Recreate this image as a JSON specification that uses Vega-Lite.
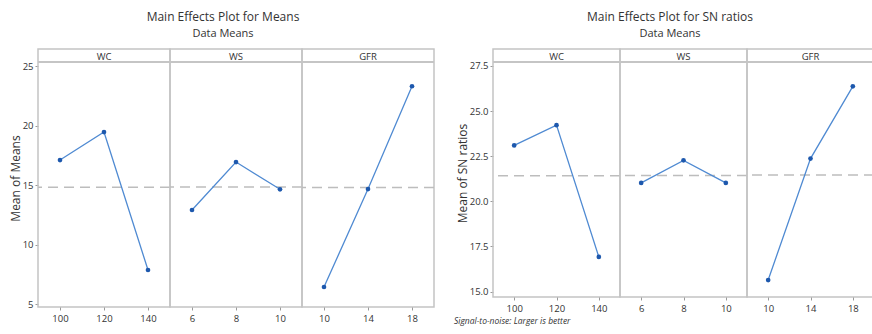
{
  "$schema": "https://vega.github.io/schema/vega-lite/v6.json",
  "padding": {"left": 9, "top": 11, "right": 0, "bottom": 0},
  "background": "white",
  "config": {
    "font": "Open Sans",
    "view": {"stroke": "#c4c4c4", "strokeWidth": 1.5},
    "axis": {"labelFont": "Open Sans", "labelFontSize": 9.5, "labelColor": "#333333", "tickColor": "#9a9a9a", "tickSize": 3, "labelPadding": 2, "domain": false, "grid": false, "titleFont": "Open Sans", "titleFontSize": 12, "titleFontWeight": "normal", "titleColor": "#333333", "titlePadding": 0},
    "axisX": {"labelPadding": 3},
    "header": {"labelFont": "Open Sans", "labelFontSize": 9.5, "labelColor": "#333333", "labelOrient": "top", "labelPadding": -12, "title": null},
    "title": {"font": "Open Sans", "fontSize": 12, "fontWeight": "normal", "color": "#333333", "subtitleFont": "Open Sans", "subtitleFontSize": 11, "subtitleColor": "#333333", "subtitlePadding": 4, "offset": 8},
    "concat": {"spacing": 18}
  },
  "datasets": {
    "means": [
      {"factor": "WC", "level": 100, "value": 17.1},
      {"factor": "WC", "level": 120, "value": 19.45},
      {"factor": "WC", "level": 140, "value": 7.86},
      {"factor": "WS", "level": 6, "value": 12.9},
      {"factor": "WS", "level": 8, "value": 16.93},
      {"factor": "WS", "level": 10, "value": 14.64},
      {"factor": "GFR", "level": 10, "value": 6.43},
      {"factor": "GFR", "level": 14, "value": 14.66},
      {"factor": "GFR", "level": 18, "value": 23.3}
    ],
    "sn": [
      {"factor": "WC", "level": 100, "value": 23.1},
      {"factor": "WC", "level": 120, "value": 24.22},
      {"factor": "WC", "level": 140, "value": 16.92},
      {"factor": "WS", "level": 6, "value": 21.02},
      {"factor": "WS", "level": 8, "value": 22.27},
      {"factor": "WS", "level": 10, "value": 21.02},
      {"factor": "GFR", "level": 10, "value": 15.64},
      {"factor": "GFR", "level": 14, "value": 22.37},
      {"factor": "GFR", "level": 18, "value": 26.37}
    ]
  },
  "hconcat": [
    {
      "title": {"text": "Main Effects Plot for Means", "subtitle": "Data Means", "anchor": "start", "align": "center", "frame": "group", "dx": 185},
      "data": {"name": "means"},
      "bounds": "flush",
      "facet": {"column": {"field": "factor", "type": "nominal", "sort": ["WC", "WS", "GFR"], "title": null}},
      "spacing": 0,
      "resolve": {"scale": {"x": "independent"}},
      "spec": {
        "width": 132,
        "height": 258,
        "layer": [
          {
            "mark": {"type": "rule", "color": "#bdbdbd", "strokeWidth": 1.5, "strokeDash": [10, 6]},
            "encoding": {"y": {"aggregate": "mean", "field": "value", "type": "quantitative", "title": "Mean of Means"}}
          },
          {
            "mark": {"type": "rule", "color": "#c4c4c4", "strokeWidth": 1.5},
            "encoding": {"y": {"datum": 25.34, "type": "quantitative", "title": "Mean of Means"}}
          },
          {
            "mark": {"type": "line", "color": "#4f8ad2", "strokeWidth": 1.3},
            "encoding": {
              "x": {"field": "level", "type": "ordinal", "title": null, "axis": {"labelAngle": 0}},
              "y": {"field": "value", "type": "quantitative", "title": "Mean of Means", "scale": {"domain": [4.75, 26.43], "nice": false, "zero": false}, "axis": {"values": [5, 10, 15, 20, 25]}}
            }
          },
          {
            "mark": {"type": "point", "filled": true, "color": "#1d58ad", "size": 22, "opacity": 1},
            "encoding": {
              "x": {"field": "level", "type": "ordinal", "title": null},
              "y": {"field": "value", "type": "quantitative", "title": "Mean of Means"}
            }
          }
        ]
      }
    },
    {
      "title": {"text": "Signal-to-noise: Larger is better", "orient": "bottom", "anchor": "start", "frame": "group", "fontSize": 8.5, "fontStyle": "italic", "offset": 4, "dx": -39},
      "vconcat": [
        {
          "title": {"text": "Main Effects Plot for SN ratios", "subtitle": "Data Means", "anchor": "start", "align": "center", "frame": "group", "dx": 177},
          "data": {"name": "sn"},
          "bounds": "flush",
          "facet": {"column": {"field": "factor", "type": "nominal", "sort": ["WC", "WS", "GFR"], "title": null}},
          "spacing": 0,
          "resolve": {"scale": {"x": "independent"}},
          "spec": {
            "width": 127,
            "height": 248,
            "layer": [
              {
                "mark": {"type": "rule", "color": "#bdbdbd", "strokeWidth": 1.5, "strokeDash": [10, 6]},
                "encoding": {"y": {"aggregate": "mean", "field": "value", "type": "quantitative", "title": "Mean of SN ratios"}}
              },
              {
                "mark": {"type": "rule", "color": "#c4c4c4", "strokeWidth": 1.5},
                "encoding": {"y": {"datum": 27.72, "type": "quantitative", "title": "Mean of SN ratios"}}
              },
              {
                "mark": {"type": "line", "color": "#4f8ad2", "strokeWidth": 1.3},
                "encoding": {
                  "x": {"field": "level", "type": "ordinal", "title": null, "axis": {"labelAngle": 0}},
                  "y": {"field": "value", "type": "quantitative", "title": "Mean of SN ratios", "scale": {"domain": [14.7, 28.44], "nice": false, "zero": false}, "axis": {"values": [15, 17.5, 20, 22.5, 25, 27.5], "format": ".1f"}}
                }
              },
              {
                "mark": {"type": "point", "filled": true, "color": "#1d58ad", "size": 22, "opacity": 1},
                "encoding": {
                  "x": {"field": "level", "type": "ordinal", "title": null},
                  "y": {"field": "value", "type": "quantitative", "title": "Mean of SN ratios"}
                }
              }
            ]
          }
        }
      ]
    }
  ]
}
